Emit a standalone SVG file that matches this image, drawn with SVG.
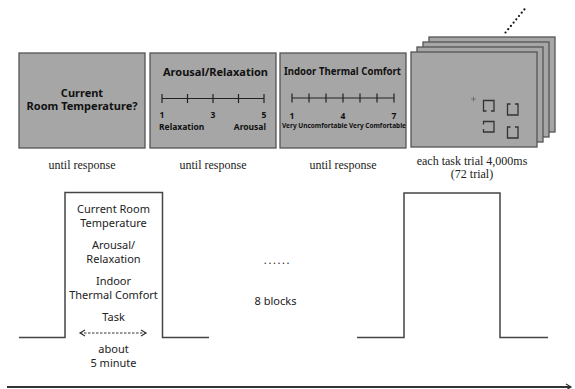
<svg xmlns="http://www.w3.org/2000/svg" width="575" height="389" viewBox="0 0 575 389">
<defs>
<style>
.panel{fill:#a6a6a6;stroke:#555;stroke-width:1.3}
.ttl{font-family:"Noto Sans","Open Sans",sans-serif;font-weight:bold;font-size:11px;fill:#111;text-anchor:middle}
.num{font-family:"Noto Sans","Open Sans",sans-serif;font-weight:bold;font-size:8.5px;fill:#111}
.small{font-family:"Noto Sans","Open Sans",sans-serif;font-weight:bold;font-size:7px;fill:#111}
.cap{font-family:"Liberation Serif",serif;font-size:12px;fill:#222;text-anchor:middle}
.lbl{font-family:"Noto Sans","Open Sans",sans-serif;font-size:11px;fill:#222;text-anchor:middle}
.scale{stroke:#222;stroke-width:1.2;fill:none}
.wave{stroke:#444;stroke-width:1.5;fill:none}
.brk{stroke:#333;stroke-width:1.3;fill:none}
</style>
<marker id="ah" markerWidth="8" markerHeight="8" refX="6" refY="4" orient="auto" markerUnits="userSpaceOnUse">
<path d="M1,1 L6,4 L1,7" fill="none" stroke="#333" stroke-width="1.2"/>
</marker>
<marker id="ahs" markerWidth="8" markerHeight="8" refX="2" refY="4" orient="auto" markerUnits="userSpaceOnUse">
<path d="M7,1 L2,4 L7,7" fill="none" stroke="#333" stroke-width="1.2"/>
</marker>
</defs>

<g id="panel-temperature">
<rect class="panel" x="19" y="53" width="126" height="95"/>
<text class="ttl" x="82" y="96.5">Current</text>
<text class="ttl" x="82" y="110" textLength="111" lengthAdjust="spacingAndGlyphs">Room Temperature?</text>
<text class="cap" x="82" y="169">until response</text>
</g>

<g id="panel-arousal">
<rect class="panel" x="150" y="53" width="126" height="95"/>
<text class="ttl" x="215.5" y="76" textLength="105" lengthAdjust="spacingAndGlyphs">Arousal/Relaxation</text>
<path class="scale" d="M162,98.5H264M162,94V103M187.5,94V103M213,94V103M238.5,94V103M264,94V103"/>
<text class="num" x="162" y="117.5" text-anchor="middle">1</text>
<text class="num" x="213" y="117.5" text-anchor="middle">3</text>
<text class="num" x="264" y="117.5" text-anchor="middle">5</text>
<text class="num" x="159" y="129.5">Relaxation</text>
<text class="num" x="266" y="129.5" text-anchor="end">Arousal</text>
<text class="cap" x="213" y="169">until response</text>
</g>

<g id="panel-comfort">
<rect class="panel" x="280" y="53" width="126" height="95"/>
<text class="ttl" x="342.5" y="75" font-size="10" textLength="117" lengthAdjust="spacingAndGlyphs">Indoor Thermal Comfort</text>
<path class="scale" d="M292,98H394M292,93.5V102.5M309,93.5V102.5M326,93.5V102.5M343,93.5V102.5M360,93.5V102.5M377,93.5V102.5M394,93.5V102.5"/>
<text class="num" x="292" y="118.5" text-anchor="middle">1</text>
<text class="num" x="343" y="118.5" text-anchor="middle">4</text>
<text class="num" x="394" y="118.5" text-anchor="middle">7</text>
<text class="small" x="282" y="127.5" textLength="124" lengthAdjust="spacingAndGlyphs">Very Uncomfortable Very Comfortable</text>
<text class="cap" x="343" y="169">until response</text>
</g>

<g id="panel-task">
<rect class="panel" x="429" y="37" width="126" height="95"/>
<rect class="panel" x="423" y="42" width="126" height="95"/>
<rect class="panel" x="417" y="47" width="126" height="95"/>
<rect class="panel" x="411" y="52" width="126" height="95"/>
<path d="M471,99H476M473.5,96.5V101.5" stroke="#666" stroke-width="0.8"/>
<path class="brk" d="M486.5,111H483.5V100.5H494V111H491"/>
<path class="brk" d="M510.5,104H507.5V115H518V104H515"/>
<path class="brk" d="M483.5,124.5V121.5H494V132H483.5V129"/>
<path class="brk" d="M510.5,127H507.5V138H518V127H515"/>
<g fill="#111">
<circle cx="505.5" cy="32.5" r="1.1"/><circle cx="508.2" cy="29.2" r="1.1"/><circle cx="510.9" cy="25.9" r="1.1"/><circle cx="513.6" cy="22.6" r="1.1"/><circle cx="516.3" cy="19.3" r="1.1"/><circle cx="519" cy="16" r="1.1"/><circle cx="521.7" cy="12.7" r="1.1"/><circle cx="524.4" cy="9.4" r="1.1"/>
</g>
<text class="cap" x="472" y="165">each task trial 4,000ms</text>
<text class="cap" x="472" y="178">(72 trial)</text>
</g>

<g id="block-1">
<path class="wave" d="M19,337.5H65V192.5H162.5V337.5H209"/>
<text class="lbl" x="113.5" y="212.5">Current Room</text>
<text class="lbl" x="113.5" y="226.5">Temperature</text>
<text class="lbl" x="113.5" y="248.5">Arousal/</text>
<text class="lbl" x="113.5" y="262.5">Relaxation</text>
<text class="lbl" x="113.5" y="285">Indoor</text>
<text class="lbl" x="113.5" y="299">Thermal Comfort</text>
<text class="lbl" x="113.5" y="321">Task</text>
<text class="lbl" x="113.5" y="352.5">about</text>
<text class="lbl" x="113.5" y="366.5">5 minute</text>
</g>

<g id="blocks-label">
<text class="lbl" x="277.5" y="264" font-size="12" letter-spacing="1.6">......</text>
<text class="lbl" x="275.5" y="305" font-size="13.5">8 blocks</text>
</g>

<g id="block-8">
<path class="wave" d="M357,337.5H404V193H500V337.5H548"/>
</g>

<g id="connectors">
<path d="M80,333H146" stroke="#333" stroke-width="1" stroke-dasharray="2.5,1.5" fill="none" marker-end="url(#ah)" marker-start="url(#ahs)"/>
<path d="M7,387H571" stroke="#333" stroke-width="1.8" fill="none" marker-end="url(#ah)"/>
</g>
</svg>
